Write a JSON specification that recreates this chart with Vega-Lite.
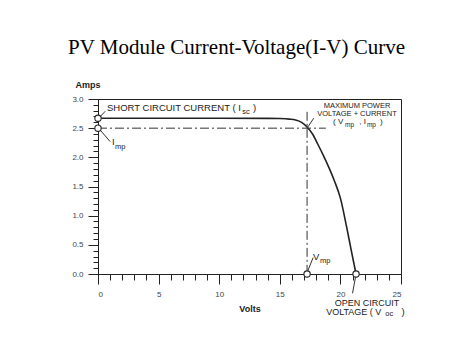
{
  "$schema": "https://vega.github.io/schema/vega-lite/v6.json",
  "autosize": {"type": "none"},
  "width": 303,
  "height": 175,
  "padding": {"left": 98, "top": 99, "right": 73, "bottom": 81},
  "background": "white",
  "config": {"view": {"stroke": "#222", "strokeWidth": 1}, "axis": {"domainColor": "#222", "tickColor": "#222", "labelFont": "Liberation Sans", "titleFont": "Liberation Sans"}},
  "title": {"text": "PV Module Current-Voltage(I-V) Curve", "font": "Liberation Serif", "fontSize": 21, "fontWeight": "normal", "color": "black", "anchor": "middle", "frame": "group", "dx": -13, "offset": 22},
  "datasets": {
    "curve": [
      {"v": 0, "i": 2.67}, {"v": 5, "i": 2.67}, {"v": 10, "i": 2.67}, {"v": 14, "i": 2.668}, {"v": 15, "i": 2.665},
      {"v": 15.8, "i": 2.655}, {"v": 16.3, "i": 2.64}, {"v": 16.8, "i": 2.6}, {"v": 17.25, "i": 2.52}, {"v": 17.7, "i": 2.4},
      {"v": 18.15, "i": 2.22}, {"v": 18.6, "i": 2.03}, {"v": 19.0, "i": 1.85}, {"v": 19.5, "i": 1.6}, {"v": 20.0, "i": 1.3},
      {"v": 20.5, "i": 0.82}, {"v": 20.9, "i": 0.4}, {"v": 21.29, "i": 0}
    ],
    "points": [{"v": 0, "i": 2.67}, {"v": 0, "i": 2.5}, {"v": 17.25, "i": 0}, {"v": 21.29, "i": 0}],
    "dash": [
      {"seg": "h", "v": 0, "i": 2.5, "v2": 18.8, "i2": 2.5},
      {"seg": "v", "v": 17.25, "i": 2.78, "v2": 17.25, "i2": 0}
    ],
    "leaders": [
      {"seg": "a", "v": 0.05, "i": 2.67, "v2": 0.6, "i2": 2.79},
      {"seg": "b", "v": 0.05, "i": 2.5, "v2": 1.0, "i2": 2.27},
      {"seg": "c", "v": 17.25, "i": 2.5, "v2": 17.8, "i2": 2.67},
      {"seg": "d", "v": 17.3, "i": 0.05, "v2": 17.75, "i2": 0.28},
      {"seg": "e", "v": 21.25, "i": -0.05, "v2": 21.0, "i2": -0.33}
    ],
    "textBig": [
      {"v": 0.74, "i": 2.85, "t": "SHORT CIRCUIT CURRENT ( I"},
      {"v": 12.79, "i": 2.85, "t": ")"},
      {"v": 1.16, "i": 2.26, "t": "I"},
      {"v": 17.74, "i": 0.29, "t": "V"},
      {"v": 25.05, "i": -0.645, "t": ")"}
    ],
    "textSmall": [
      {"v": 19.39, "i": 2.6, "t": "( V"},
      {"v": 21.55, "i": 2.6, "t": ", I"},
      {"v": 23.27, "i": 2.6, "t": ")"}
    ],
    "centerBig": [
      {"v": 22.2, "i": -0.49, "t": "OPEN CIRCUIT"},
      {"v": 21.1, "i": -0.645, "t": "VOLTAGE ( V"}
    ],
    "centerSmall": [
      {"v": 21.37, "i": 2.88, "t": "MAXIMUM POWER"},
      {"v": 21.37, "i": 2.745, "t": "VOLTAGE + CURRENT"}
    ],
    "subsBig": [
      {"v": 11.9, "i": 2.77, "t": "sc"},
      {"v": 1.4, "i": 2.18, "t": "mp"},
      {"v": 18.32, "i": 0.22, "t": "mp"},
      {"v": 23.7, "i": -0.68, "t": "oc"}
    ],
    "subsSmall": [
      {"v": 20.38, "i": 2.55, "t": "mp"},
      {"v": 22.19, "i": 2.55, "t": "mp"}
    ]
  },
  "resolve": {"axis": {"x": "independent", "y": "independent"}},
  "layer": [
    {
      "data": {"name": "curve"},
      "mark": {"type": "line", "color": "#222", "strokeWidth": 1.6, "interpolate": "monotone"},
      "encoding": {
        "x": {"field": "v", "type": "quantitative", "scale": {"domain": [0, 25], "nice": false},
          "axis": {"orient": "bottom", "values": [0,1,2,3,4,5,6,7,8,9,10,11,12,13,14,15,16,17,18,19,20,21,22,23,24,25], "tickSize": 6, "labels": false, "title": null, "grid": false, "domain": true}},
        "y": {"field": "i", "type": "quantitative", "scale": {"domain": [0, 3], "nice": false},
          "axis": {"orient": "left", "values": [0,0.1,0.2,0.3,0.4,0.5,0.6,0.7,0.8,0.9,1,1.1,1.2,1.3,1.4,1.5,1.6,1.7,1.8,1.9,2,2.1,2.2,2.3,2.4,2.5,2.6,2.7,2.8,2.9,3], "tickSize": 5, "labels": false, "title": null, "grid": false, "domain": true}}
      }
    },
    {
      "data": {"name": "dash"},
      "mark": {"type": "rule", "color": "#333", "strokeWidth": 1, "strokeDash": [9, 3, 2, 3]},
      "encoding": {
        "x": {"field": "v", "type": "quantitative", "axis": null},
        "y": {"field": "i", "type": "quantitative", "axis": null},
        "x2": {"field": "v2"},
        "y2": {"field": "i2"}
      }
    },
    {
      "data": {"name": "leaders"},
      "mark": {"type": "rule", "color": "#333", "strokeWidth": 1},
      "encoding": {
        "x": {"field": "v", "type": "quantitative", "axis": null},
        "y": {"field": "i", "type": "quantitative", "axis": null},
        "x2": {"field": "v2"},
        "y2": {"field": "i2"}
      }
    },
    {
      "data": {"name": "points"},
      "mark": {"type": "point", "filled": false, "fill": "white", "stroke": "#222", "strokeWidth": 1.1, "size": 40, "opacity": 1, "fillOpacity": 1},
      "encoding": {
        "x": {"field": "v", "type": "quantitative",
          "axis": {"orient": "bottom", "values": [0, 5, 10, 15, 20, 25], "tickSize": 10, "format": "d", "labelFontSize": 8, "labelColor": "#444", "labelPadding": 6, "domain": false, "grid": false,
            "title": "Volts", "titleFontSize": 9, "titleFontWeight": "bold", "titleColor": "#222", "titleBaseline": "alphabetic", "titleY": 37}},
        "y": {"field": "i", "type": "quantitative",
          "axis": {"orient": "left", "values": [0, 0.5, 1, 1.5, 2, 2.5, 3], "tickSize": 10, "format": ".1f", "labelFontSize": 8, "labelColor": "#444", "labelPadding": 5, "domain": false, "grid": false,
            "title": "Amps", "titleAngle": 0, "titleAlign": "left", "titleBaseline": "alphabetic", "titleX": -23, "titleY": -12, "titleFontSize": 9, "titleFontWeight": "bold", "titleColor": "#222"}}
      }
    },
    {
      "data": {"name": "textBig"},
      "mark": {"type": "text", "align": "left", "baseline": "middle", "font": "Liberation Sans", "fontSize": 9.5, "color": "#222"},
      "encoding": {
        "x": {"field": "v", "type": "quantitative", "axis": null},
        "y": {"field": "i", "type": "quantitative", "axis": null},
        "text": {"field": "t"}
      }
    },
    {
      "data": {"name": "textSmall"},
      "mark": {"type": "text", "align": "left", "baseline": "middle", "font": "Liberation Sans", "fontSize": 8, "color": "#222"},
      "encoding": {
        "x": {"field": "v", "type": "quantitative", "axis": null},
        "y": {"field": "i", "type": "quantitative", "axis": null},
        "text": {"field": "t"}
      }
    },
    {
      "data": {"name": "centerBig"},
      "mark": {"type": "text", "align": "center", "baseline": "middle", "font": "Liberation Sans", "fontSize": 9, "color": "#222"},
      "encoding": {
        "x": {"field": "v", "type": "quantitative", "axis": null},
        "y": {"field": "i", "type": "quantitative", "axis": null},
        "text": {"field": "t"}
      }
    },
    {
      "data": {"name": "centerSmall"},
      "mark": {"type": "text", "align": "center", "baseline": "middle", "font": "Liberation Sans", "fontSize": 7.5, "color": "#222"},
      "encoding": {
        "x": {"field": "v", "type": "quantitative", "axis": null},
        "y": {"field": "i", "type": "quantitative", "axis": null},
        "text": {"field": "t"}
      }
    },
    {
      "data": {"name": "subsBig"},
      "mark": {"type": "text", "align": "left", "baseline": "middle", "font": "Liberation Sans", "fontSize": 7.5, "color": "#222"},
      "encoding": {
        "x": {"field": "v", "type": "quantitative", "axis": null},
        "y": {"field": "i", "type": "quantitative", "axis": null},
        "text": {"field": "t"}
      }
    },
    {
      "data": {"name": "subsSmall"},
      "mark": {"type": "text", "align": "left", "baseline": "middle", "font": "Liberation Sans", "fontSize": 6.5, "color": "#222"},
      "encoding": {
        "x": {"field": "v", "type": "quantitative", "axis": null},
        "y": {"field": "i", "type": "quantitative", "axis": null},
        "text": {"field": "t"}
      }
    }
  ]
}
